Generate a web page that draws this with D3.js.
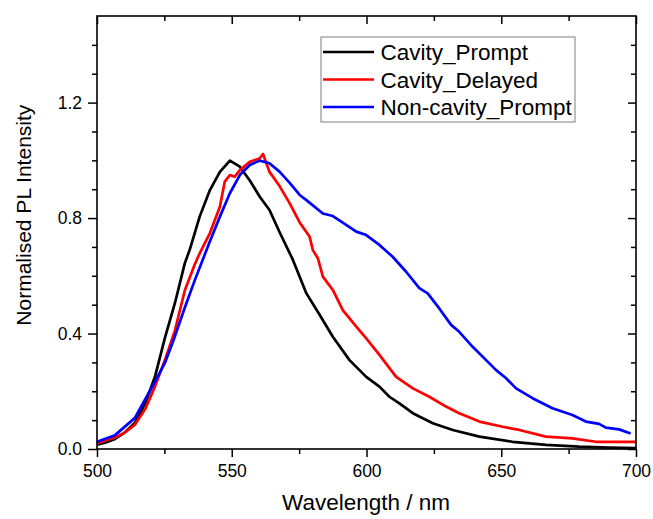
<!DOCTYPE html>
<html>
<head>
<meta charset="utf-8">
<script src="https://cdn.jsdelivr.net/npm/d3@7"></script>
<style>
    body { margin: 0; background: #fff; }
    svg { font-family: "Liberation Sans", Arial, sans-serif; }
    .line { fill: none; stroke-width: 2.7px; stroke-linejoin: round; }
</style>
</head>
<body>
<svg id="chart" width="653" height="519"></svg>
<script>
// [wavelength (nm), normalised intensity]
var cavityPrompt = [
    [500, 0.015], [503, 0.022], [506.7, 0.035], [510, 0.055], [514, 0.09],
    [518, 0.16], [521.5, 0.25], [525.2, 0.385], [528.9, 0.505], [532.6, 0.644],
    [534.4, 0.69], [538.1, 0.805], [541.9, 0.897], [545.6, 0.96], [549.3, 0.999],
    [553, 0.978], [556.7, 0.93], [560.4, 0.874], [564, 0.828], [567.8, 0.75],
    [572.7, 0.655], [577.7, 0.539], [582.6, 0.465], [587.5, 0.389], [593.7, 0.308],
    [599.9, 0.25], [604.8, 0.216], [608.5, 0.181], [612.2, 0.158], [617.2, 0.124],
    [624.6, 0.089], [632, 0.066], [641.9, 0.043], [654.2, 0.025], [666.6, 0.014],
    [678.9, 0.008], [690, 0.005], [700, 0.003]
];

var cavityDelayed = [
    [500, 0.02], [506.7, 0.04], [510, 0.055], [514, 0.083], [518, 0.14],
    [521.5, 0.216], [525.2, 0.308], [528.9, 0.41], [532.6, 0.55], [536.3, 0.64],
    [538.1, 0.678], [541.9, 0.748], [545.6, 0.839], [547.4, 0.926], [549.3, 0.949],
    [551.1, 0.943], [553, 0.966], [556.7, 0.995], [560.4, 1.007], [561.6, 1.022],
    [564, 0.96], [567.8, 0.91], [571.5, 0.851], [575.2, 0.785], [578.9, 0.735],
    [580.1, 0.689], [582, 0.66], [583.8, 0.597], [587.5, 0.551], [591.2, 0.481],
    [596.2, 0.424], [599.9, 0.383], [604.8, 0.326], [611, 0.25], [617.2, 0.21],
    [623.3, 0.181], [629.5, 0.147], [634.4, 0.124], [641.9, 0.095], [650.5, 0.077],
    [656.7, 0.066], [666.6, 0.043], [676.4, 0.037], [685.1, 0.025], [700, 0.025]
];

var nonCavityPrompt = [
    [500, 0.025], [506.7, 0.048], [514, 0.107], [521.5, 0.233], [525.2, 0.298],
    [528.9, 0.39], [532.6, 0.49], [536.3, 0.585], [541.5, 0.71], [545.6, 0.805],
    [549.3, 0.886], [553, 0.949], [556.7, 0.984], [560.4, 0.999], [564, 0.99],
    [567.8, 0.96], [571.5, 0.922], [575.2, 0.88], [577.7, 0.862], [583.8, 0.816],
    [587.5, 0.807], [591.2, 0.784], [596.2, 0.753], [599.9, 0.741], [604.8, 0.707],
    [609.7, 0.666], [614.7, 0.614], [619.6, 0.557], [622.7, 0.539], [627, 0.487],
    [631.4, 0.43], [634.4, 0.406], [639.4, 0.354], [648, 0.274], [651.8, 0.245],
    [655.5, 0.21], [661.6, 0.176], [669, 0.141], [676.4, 0.118], [681.4, 0.095],
    [686.3, 0.087], [688.8, 0.074], [693.7, 0.068], [698, 0.054]
];

var seriesNames = ["Cavity_Prompt", "Cavity_Delayed", "Non-cavity_Prompt"];
var seriesColors = ["#000000", "#ff0000", "#0000ff"];

var xMajorTicks = [500, 550, 600, 650, 700];
var xMinorTicks = [525, 575, 625, 675];
var yMajorTicks = [0, 0.4, 0.8, 1.2];
var yMinorTicks = [0.1, 0.2, 0.3, 0.5, 0.6, 0.7, 0.9, 1.0, 1.1, 1.3, 1.4];

var svg = d3.select("#chart");
var margin = { top: 16, bottom: 70, right: 17, left: 97 };
var width = +svg.attr("width") - margin.left - margin.right,
    height = +svg.attr("height") - margin.top - margin.bottom;

var svgInner = svg
    .append("g")
    .attr("transform", "translate(" + margin.left + "," + margin.top + ")");

var xScale = d3.scaleLinear().domain([500, 700]).range([0, width]);
var yScale = d3.scaleLinear().domain([0, 1.5]).range([height, 0]);

// helper: draw an axis and strip the domain line, style ticks
var drawAxis = function(axis, transform, withLabels) {
    var g = svgInner
        .append("g")
        .attr("transform", transform)
        .call(axis);
    g.select(".domain").remove();
    g.selectAll(".tick line").attr("stroke", "#000").attr("stroke-width", 1.5);
    if (withLabels) {
        g.selectAll(".tick text")
            .attr("fill", "#000")
            .style("font-size", "17.5px")
            .style("font-family", "'Liberation Sans', Arial, sans-serif");
    } else {
        g.selectAll(".tick text").remove();
    }
    return g;
};

// bottom axis (outward ticks)
drawAxis(d3.axisBottom(xScale).tickValues(xMajorTicks).tickSize(8).tickPadding(8).tickFormat(d3.format("d")),
    "translate(0," + height + ")", true);
drawAxis(d3.axisBottom(xScale).tickValues(xMinorTicks).tickSize(5), "translate(0," + height + ")", false);

// top axis (ticks pointing into the plot)
drawAxis(d3.axisBottom(xScale).tickValues(xMajorTicks).tickSize(8), "translate(0,0)", false);
drawAxis(d3.axisBottom(xScale).tickValues(xMinorTicks).tickSize(5), "translate(0,0)", false);

// left axis (outward ticks)
drawAxis(d3.axisLeft(yScale).tickValues(yMajorTicks).tickSize(9).tickPadding(6).tickFormat(d3.format(".1f")),
    "translate(0,0)", true);
drawAxis(d3.axisLeft(yScale).tickValues(yMinorTicks).tickSize(5), "translate(0,0)", false);

// right axis (ticks pointing into the plot)
drawAxis(d3.axisLeft(yScale).tickValues(yMajorTicks).tickSize(8), "translate(" + width + ",0)", false);
drawAxis(d3.axisLeft(yScale).tickValues(yMinorTicks).tickSize(5), "translate(" + width + ",0)", false);

// Draw the lines
var line = d3
    .line()
    .x(function(d) { return xScale(d[0]); })
    .y(function(d) { return yScale(d[1]); });

[cavityPrompt, cavityDelayed, nonCavityPrompt].forEach(function(data, i) {
    svgInner
        .append("path")
        .datum(data)
        .attr("class", "line")
        .attr("stroke", seriesColors[i])
        .attr("d", line);
});

// frame
svgInner
    .append("rect")
    .attr("width", width)
    .attr("height", height)
    .attr("fill", "none")
    .attr("stroke", "#000")
    .attr("stroke-width", 1.6);

// axis titles
svg.append("text")
    .attr("x", 366)
    .attr("y", 510)
    .attr("text-anchor", "middle")
    .style("font-size", "22.5px")
    .text("Wavelength / nm");

svg.append("text")
    .attr("transform", "translate(31," + (margin.top + yScale(0.81)) + ") rotate(-90)")
    .attr("text-anchor", "middle")
    .style("font-size", "21px")
    .text("Normalised PL Intensity");

// Create Legend
var legend = svg.append("g").attr("transform", "translate(321,37)");

legend
    .append("rect")
    .attr("width", 254)
    .attr("height", 85)
    .attr("fill", "#fff")
    .attr("stroke", "#7f7f7f")
    .attr("stroke-width", 1);

seriesNames.forEach(function(name, i) {
    legend
        .append("line")
        .attr("x1", 2)
        .attr("x2", 53)
        .attr("y1", 15 + i * 27.5)
        .attr("y2", 15 + i * 27.5)
        .attr("stroke", seriesColors[i])
        .attr("stroke-width", 2.7);
    legend
        .append("text")
        .attr("x", 59.5)
        .attr("y", 23 + i * 27.5)
        .style("font-size", "22.5px")
        .text(name);
});
</script>
</body>
</html>
